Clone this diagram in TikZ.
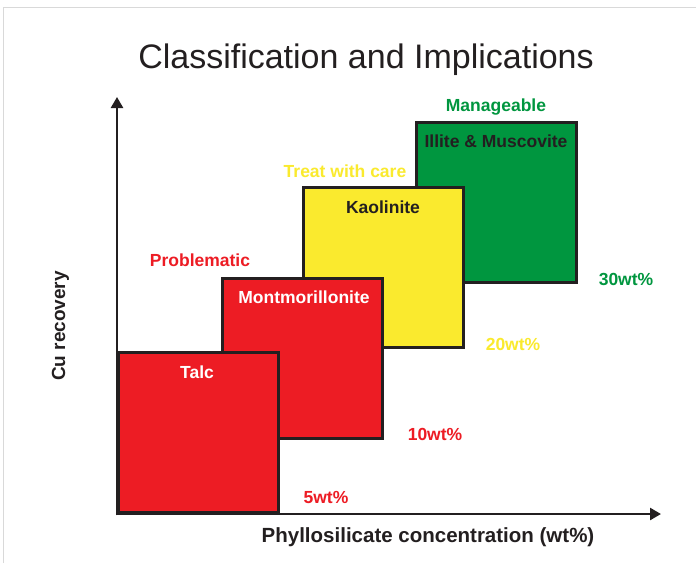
\documentclass[tikz,border=0pt]{standalone}
\usepackage{fontspec}
\setmainfont{Liberation Sans}
\usetikzlibrary{arrows.meta}
\definecolor{cred}{HTML}{ED1C24}
\definecolor{cyellow}{HTML}{FAEA2E}
\definecolor{cgreen}{HTML}{00963F}
\definecolor{cdark}{HTML}{231F20}
\definecolor{cframe}{HTML}{D9D9D9}
\begin{document}
\begin{tikzpicture}[x=1pt,y=-1pt,
  box/.style={draw=cdark,line width=3pt,anchor=north west,inner sep=0pt,
    minimum width=159.5pt,minimum height=159.5pt},
  lbl/.style={font=\fontsize{17.5}{19}\selectfont\bfseries,anchor=base,inner sep=0pt},
  axislbl/.style={font=\fontsize{19}{21}\selectfont\bfseries,text=cdark,anchor=base,inner sep=0pt},
  axis/.style={draw=cdark,line width=2.5pt,-{Triangle[length=11pt,width=12pt]}}]
\useasboundingbox (0,0) rectangle (696,563);
\fill[white] (0,0) rectangle (696,563);
\draw[cframe,line width=1.5pt] (3.5,563) -- (3.5,7.5) -- (696,7.5);
% title
\node[anchor=base,inner sep=0pt,font=\fontsize{34}{38}\selectfont,text=cdark] (title) at (366,68) {Classification and Implications};
% boxes
\node[box,fill=cgreen] (illite) at (415,121) {};
\node[box,fill=cyellow] (kaol) at (302,186) {};
\node[box,fill=cred] (mont) at (221,277) {};
\node[box,fill=cred] (talc) at (117,351) {};
% box labels
\node[lbl,text=cdark] (tillite) at (496,147) {Illite \& Muscovite};
\node[lbl,text=cdark] (tkaol) at (383,213) {Kaolinite};
\node[lbl,text=white] (tmont) at (304,303) {Montmorillonite};
\node[lbl,text=white] (ttalc) at (197,378) {Talc};
% category labels
\node[lbl,text=cgreen] (manage) at (496,111) {Manageable};
\node[lbl,text=cyellow] (treat) at (345,177) {Treat with care};
\node[lbl,text=cred] (probl) at (200,266) {Problematic};
% concentrations
\node[lbl,text=cred] (w5) at (326,503) {5wt\%};
\node[lbl,text=cred] (w10) at (435,440) {10wt\%};
\node[lbl,text=cyellow] (w20) at (513,350) {20wt\%};
\node[lbl,text=cgreen] (w30) at (626,285) {30wt\%};
% axes
\coordinate (origin) at (117,514);
\coordinate (ytip) at (117,97);
\coordinate (xtip) at (661,514);
\draw[axis] ([yshift=-1.25pt]origin) -- (ytip);
\draw[axis] ([xshift=-1.25pt]origin) -- (xtip);
\node[axislbl,font=\fontsize{20.5}{22}\selectfont\bfseries] (xlabel) at (428,542) {Phyllosilicate concentration (wt\%)};
\node[axislbl,rotate=90] (ylabel) at (65,326) {Cu recovery};
\end{tikzpicture}
\end{document}
